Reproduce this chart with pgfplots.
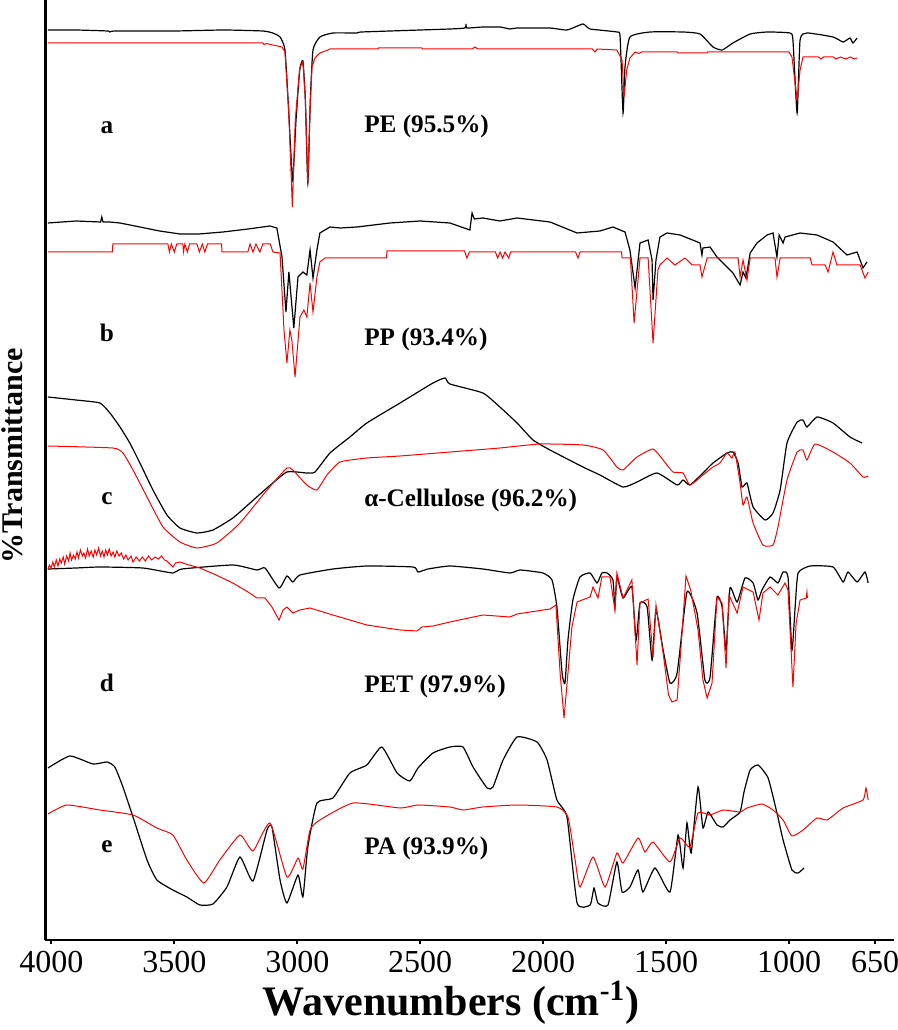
\documentclass[border=0pt]{standalone}
\usepackage{fontspec}
\setmainfont{Liberation Serif}
\usepackage{pgfplots}
\pgfplotsset{compat=1.18}

% FTIR spectra: black = sample, red = library match; y is an arbitrary offset scale
\begin{document}
\begin{tikzpicture}
\useasboundingbox (0,0) rectangle (449pt,515pt);
\begin{axis}[
    at={(22.75pt,45pt)}, anchor=south west,
    scale only axis, width=424.25pt, height=470pt,
    x dir=reverse, xmin=573, xmax=4024,
    ymin=-940, ymax=0,
    axis x line=bottom, axis y line=left,
    axis line style={-, line width=1.3pt},
    xtick={4000,3500,3000,2500,2000,1500,1000,650},
    ytick=\empty,
    tick align=outside, major tick length=2pt,
    tick style={line width=1pt, black},
    /pgf/number format/1000 sep={},
    /pgf/number format/assume math mode=true,
    xticklabel style={font=\fontsize{16}{19}\selectfont},
    every axis x label/.style={at={(axis description cs:0.478,-0.067)}, anchor=center},
    every axis y label/.style={at={(axis description cs:-0.0395,0.515)}, rotate=90, anchor=center},
    xlabel={\bfseries\fontsize{21}{25}\selectfont Wavenumbers (cm\textsuperscript{-1})},
    ylabel={\bfseries\fontsize{15}{18}\selectfont \%Transmittance},
    clip=false,
    sm/.style={smooth, tension=0.3},
]
% ---- a: PE ----
\addplot[black, line width=0.6pt, sm] coordinates {
(4014,-30)(3900,-30)(3770,-31)(3762,-32)(3740,-31)(3500,-31)(3300,-30)(3140,-31)(3100,-33)(3070,-37)(3050,-50)(3035,-110)(3019,-180)(3005,-120)(2990,-70)(2977,-61)(2967,-100)(2957,-183)(2947,-100)(2936,-50)(2908,-37)(2855,-33)(2757,-33)(2740,-32)(2500,-30)(2379,-29)(2318,-28)(2314,-24)(2310,-28)(2245,-27)(2176,-27)(2135,-29)(2106,-28)(1972,-28)(1903,-30)(1838,-24)(1809,-29)(1700,-32)(1687,-37)(1675,-113)(1667,-67)(1647,-37)(1565,-32)(1431,-32)(1362,-34)(1309,-47)(1272,-50)(1228,-43)(1158,-34)(1089,-32)(996,-33)(984,-40)(967,-113)(955,-40)(927,-33)(821,-37)(780,-42)(752,-38)(740,-43)(723,-38)
};
\addplot[red, line width=0.5pt] coordinates {
(4014,-43)(3500,-43)(3140,-43)(3135,-44.5)(3125,-43.5)(3099,-45)(3062,-47)(3050,-52)(3035,-110)(3020,-207)(3008,-120)(2990,-68)(2977,-62)(2967,-100)(2957,-184)(2948,-110)(2940,-67)(2928,-58)(2908,-53)(2875,-50)(2867,-49)(2672,-49)(2670,-48)(2493,-48)(2490,-49)(2290,-49)(2277,-47)(2265,-49)(1800,-49)(1789,-52)(1780,-49)(1700,-50)(1679,-60)(1671,-97)(1660,-70)(1647,-58)(1626,-52)(1610,-53.5)(1600,-52)(1455,-52)(1450,-53)(1333,-53)(1330,-52)(1000,-52)(988,-57)(967,-100)(955,-70)(943,-57)(880,-57)(870,-59)(860,-57)(820,-57)(810,-59)(790,-57)(770,-59)(750,-57)(735,-59)(723,-58)
};
% ---- b: PP ----
\addplot[black, line width=0.6pt] coordinates {
(4014,-223)(3900,-221)(3800,-222)(3795,-217)(3790,-222)(3762,-222)(3721,-223)(3680,-225)(3640,-227)(3560,-231)(3477,-234)(3400,-234)(3302,-232)(3200,-229)(3111,-226)(3083,-228)(3062,-257)(3046,-312)(3034,-272)(3014,-328)(2997,-277)(2977,-272)(2961,-275)(2948,-250)(2936,-278)(2920,-250)(2908,-233)(2867,-227)(2826,-228)(2757,-227)(2623,-223)(2500,-221)(2379,-223)(2298,-230)(2289,-213)(2280,-219)(2245,-218)(2176,-221)(2106,-218)(1972,-222)(1862,-233)(1769,-231)(1716,-227)(1667,-232)(1647,-250)(1626,-288)(1606,-243)(1573,-240)(1557,-260)(1553,-300)(1541,-260)(1525,-237)(1496,-233)(1443,-235)(1362,-243)(1354,-255)(1350,-248)(1321,-247)(1293,-257)(1228,-273)(1199,-285)(1187,-272)(1175,-278)(1158,-253)(1130,-243)(1089,-235)(1065,-233)(1049,-257)(1040,-235)(1024,-243)(1016,-237)(955,-233)(886,-235)(821,-242)(764,-255)(723,-252)(699,-268)(683,-262)
};
\addplot[red, line width=0.5pt] coordinates {
(4014,-252)(3752,-252)(3750,-244)(3526,-244)(3520,-252)(3512,-244)(3500,-252)(3490,-244)(3465,-244)(3463,-252)(3457,-244)(3447,-252)(3438,-244)(3408,-244)(3398,-252)(3386,-244)(3376,-252)(3365,-244)(3308,-244)(3306,-252)(3201,-252)(3192,-244)(3180,-252)(3168,-244)(3152,-252)(3140,-244)(3110,-244)(3099,-252)(3070,-253)(3054,-330)(3042,-363)(3030,-330)(3022,-340)(3009,-377)(2989,-317)(2973,-310)(2961,-317)(2948,-283)(2936,-312)(2920,-277)(2908,-262)(2887,-258)(2637,-258)(2635,-251)(2320,-251)(2310,-258)(2300,-252)(2194,-252)(2185,-258)(2175,-252)(2165,-258)(2155,-252)(2140,-258)(2132,-252)(1868,-252)(1858,-258)(1850,-252)(1681,-252)(1679,-258)(1645,-258)(1630,-323)(1606,-258)(1573,-258)(1553,-343)(1533,-270)(1525,-265)(1496,-258)(1464,-265)(1423,-258)(1394,-265)(1362,-265)(1354,-277)(1333,-258)(1207,-258)(1199,-277)(1187,-260)(1171,-280)(1158,-258)(1057,-258)(1049,-277)(1036,-258)(914,-258)(906,-265)(853,-265)(841,-272)(821,-252)(805,-265)(711,-265)(691,-278)(678,-272)
};
% ---- c: alpha-cellulose ----
\addplot[black, line width=0.6pt, sm] coordinates {
(4014,-397)(3900,-400)(3803,-403)(3762,-413)(3721,-427)(3681,-443)(3640,-463)(3587,-490)(3530,-515)(3477,-528)(3408,-533)(3343,-530)(3262,-518)(3192,-503)(3123,-488)(3042,-472)(2961,-473)(2928,-472)(2867,-453)(2786,-437)(2717,-423)(2582,-403)(2448,-383)(2399,-378)(2379,-384)(2245,-393)(2176,-407)(2106,-423)(2041,-440)(1972,-450)(1838,-467)(1769,-475)(1675,-487)(1618,-482)(1537,-473)(1455,-485)(1431,-480)(1403,-485)(1350,-473)(1309,-463)(1252,-453)(1228,-452)(1207,-463)(1191,-487)(1171,-483)(1146,-507)(1097,-520)(1065,-513)(1036,-490)(1008,-443)(967,-422)(943,-420)(927,-427)(886,-417)(821,-423)(752,-437)(703,-443)
};
\addplot[red, line width=0.5pt, sm] coordinates {
(4014,-446)(3750,-448)(3709,-453)(3668,-470)(3611,-497)(3546,-527)(3477,-542)(3408,-548)(3327,-543)(3233,-523)(3123,-490)(3042,-468)(3018,-470)(2961,-485)(2920,-490)(2879,-475)(2826,-462)(2717,-458)(2582,-456)(2379,-452)(2176,-448)(2013,-444)(1838,-445)(1756,-450)(1700,-467)(1675,-470)(1618,-457)(1553,-449)(1512,-460)(1472,-472)(1431,-473)(1403,-485)(1350,-475)(1309,-467)(1281,-463)(1252,-453)(1232,-458)(1220,-452)(1199,-483)(1187,-505)(1171,-497)(1146,-523)(1106,-545)(1065,-545)(1045,-527)(1008,-480)(967,-452)(943,-450)(927,-460)(894,-444)(821,-452)(752,-463)(699,-477)(678,-476)
};
% ---- d: PET ----
\addplot[black, line width=0.6pt, sm] coordinates {
(4014,-569)(3900,-568)(3803,-567)(3628,-568)(3506,-573)(3469,-569)(3262,-565)(3164,-570)(3131,-568)(3074,-588)(3042,-576)(3018,-582)(2989,-575)(2855,-569)(2717,-566)(2529,-567)(2509,-572)(2468,-569)(2379,-566)(2245,-569)(2135,-573)(2094,-570)(2001,-573)(1964,-580)(1944,-607)(1923,-673)(1911,-683)(1899,-640)(1879,-600)(1850,-577)(1809,-573)(1781,-583)(1761,-573)(1740,-573)(1716,-580)(1708,-608)(1700,-577)(1675,-598)(1639,-587)(1622,-640)(1606,-603)(1577,-607)(1557,-660)(1541,-610)(1512,-650)(1484,-683)(1455,-673)(1415,-592)(1374,-613)(1342,-680)(1321,-677)(1293,-598)(1272,-607)(1256,-650)(1240,-588)(1211,-602)(1179,-578)(1146,-583)(1126,-600)(1110,-590)(1077,-577)(1045,-583)(1024,-572)(1004,-577)(988,-650)(975,-607)(963,-573)(914,-566)(821,-567)(780,-582)(760,-572)(723,-582)(691,-572)(678,-583)
};
\addplot[red, line width=0.5pt] coordinates {
(4014,-569)(4008,-565)(4001,-568)(3994,-562)(3988,-567)(3980,-560)(3973,-566)(3966,-559)(3960,-563)(3952,-557)(3946,-564)(3938,-556)(3930,-561)(3924,-553)(3918,-560)(3910,-555)(3903,-559)(3896,-552)(3890,-558)(3882,-550)(3874,-556)(3868,-553)(3861,-558)(3853,-549)(3846,-556)(3838,-551)(3830,-557)(3823,-550)(3816,-555)(3808,-548)(3800,-556)(3793,-551)(3786,-557)(3779,-550)(3772,-555)(3765,-549)(3757,-556)(3749,-552)(3742,-557)(3734,-551)(3725,-556)(3716,-553)(3706,-559)(3697,-555)(3688,-560)(3676,-556)(3668,-562)(3655,-557)(3642,-561)(3630,-557)(3618,-561)(3605,-556)(3592,-560)(3578,-557)(3565,-559)(3552,-556)(3540,-560)(3530,-561)(3518,-564)(3506,-567)(3495,-563)(3477,-562)(3440,-565)(3396,-568)(3330,-575)(3262,-583)(3200,-592)(3164,-598)(3131,-598)(3103,-607)(3074,-620)(3058,-610)(3042,-607)(3018,-613)(2989,-610)(2948,-608)(2855,-615)(2717,-625)(2582,-630)(2513,-631)(2493,-627)(2448,-626)(2379,-622)(2245,-615)(2135,-617)(2106,-614)(1972,-609)(1948,-605)(1931,-673)(1915,-718)(1899,-673)(1883,-627)(1862,-602)(1809,-597)(1797,-587)(1777,-598)(1761,-577)(1728,-577)(1708,-610)(1700,-573)(1675,-598)(1639,-580)(1618,-665)(1606,-603)(1573,-599)(1553,-657)(1541,-605)(1512,-653)(1490,-695)(1476,-702)(1455,-700)(1440,-650)(1419,-576)(1400,-590)(1370,-630)(1350,-680)(1333,-698)(1313,-683)(1293,-597)(1272,-603)(1256,-668)(1244,-595)(1211,-613)(1187,-587)(1146,-592)(1122,-620)(1106,-593)(1077,-587)(1045,-595)(1016,-583)(1004,-590)(984,-687)(971,-623)(955,-600)(930,-598)(927,-592)(925,-598)
};
% ---- e: PA ----
\addplot[black, line width=0.6pt, sm] coordinates {
(4014,-768)(3925,-756)(3831,-764)(3774,-762)(3742,-767)(3709,-787)(3668,-817)(3611,-860)(3571,-880)(3506,-890)(3449,-897)(3396,-905)(3343,-904)(3286,-887)(3233,-857)(3180,-881)(3123,-830)(3103,-827)(3070,-880)(3042,-903)(2997,-875)(2977,-897)(2957,-847)(2920,-803)(2855,-798)(2786,-773)(2717,-765)(2656,-747)(2594,-773)(2542,-781)(2509,-768)(2448,-753)(2379,-747)(2326,-747)(2285,-767)(2228,-788)(2204,-787)(2163,-760)(2106,-737)(2025,-742)(1984,-760)(1944,-800)(1903,-817)(1862,-903)(1809,-905)(1793,-888)(1777,-903)(1736,-905)(1700,-862)(1679,-892)(1647,-887)(1614,-870)(1594,-892)(1545,-868)(1484,-892)(1451,-835)(1431,-868)(1415,-823)(1398,-853)(1370,-787)(1350,-828)(1329,-812)(1293,-825)(1268,-827)(1240,-820)(1199,-812)(1183,-792)(1158,-770)(1126,-765)(1085,-778)(1049,-813)(1024,-840)(988,-870)(963,-873)(939,-868)
};
\addplot[red, line width=0.5pt, sm] coordinates {
(4014,-814)(3937,-805)(3803,-810)(3668,-815)(3571,-828)(3506,-835)(3449,-860)(3380,-883)(3315,-860)(3233,-835)(3180,-851)(3111,-823)(3042,-877)(2997,-858)(2977,-869)(2948,-830)(2908,-820)(2773,-803)(2582,-808)(2509,-805)(2379,-807)(2326,-810)(2245,-807)(2106,-805)(1944,-807)(1899,-817)(1870,-860)(1850,-887)(1797,-857)(1748,-887)(1700,-853)(1675,-863)(1614,-838)(1586,-852)(1553,-842)(1484,-862)(1443,-838)(1403,-847)(1370,-813)(1321,-815)(1268,-810)(1199,-812)(1171,-808)(1110,-804)(1065,-810)(1024,-820)(988,-836)(943,-830)(886,-818)(845,-820)(780,-808)(699,-800)(687,-788)(678,-800)
};
% ---- sample labels ----
\begin{scope}[every node/.style={font=\bfseries\fontsize{12.6}{15}\selectfont, inner sep=0pt}]
\node[anchor=center] at (axis cs:3774,-128) {a};
\node[anchor=west] at (axis cs:2729,-126) {PE (95.5\%)};
\node[anchor=center] at (axis cs:3774,-333) {b};
\node[anchor=west] at (axis cs:2729,-339) {PP (93.4\%)};
\node[anchor=center] at (axis cs:3774,-499) {c};
\node[anchor=west] at (axis cs:2729,-500) {α-Cellulose (96.2\%)};
\node[anchor=center] at (axis cs:3774,-683) {d};
\node[anchor=west] at (axis cs:2729,-686) {PET (97.9\%)};
\node[anchor=center] at (axis cs:3774,-847) {e};
\node[anchor=west] at (axis cs:2729,-848) {PA (93.9\%)};
\end{scope}
\end{axis}
\end{tikzpicture}
\end{document}
